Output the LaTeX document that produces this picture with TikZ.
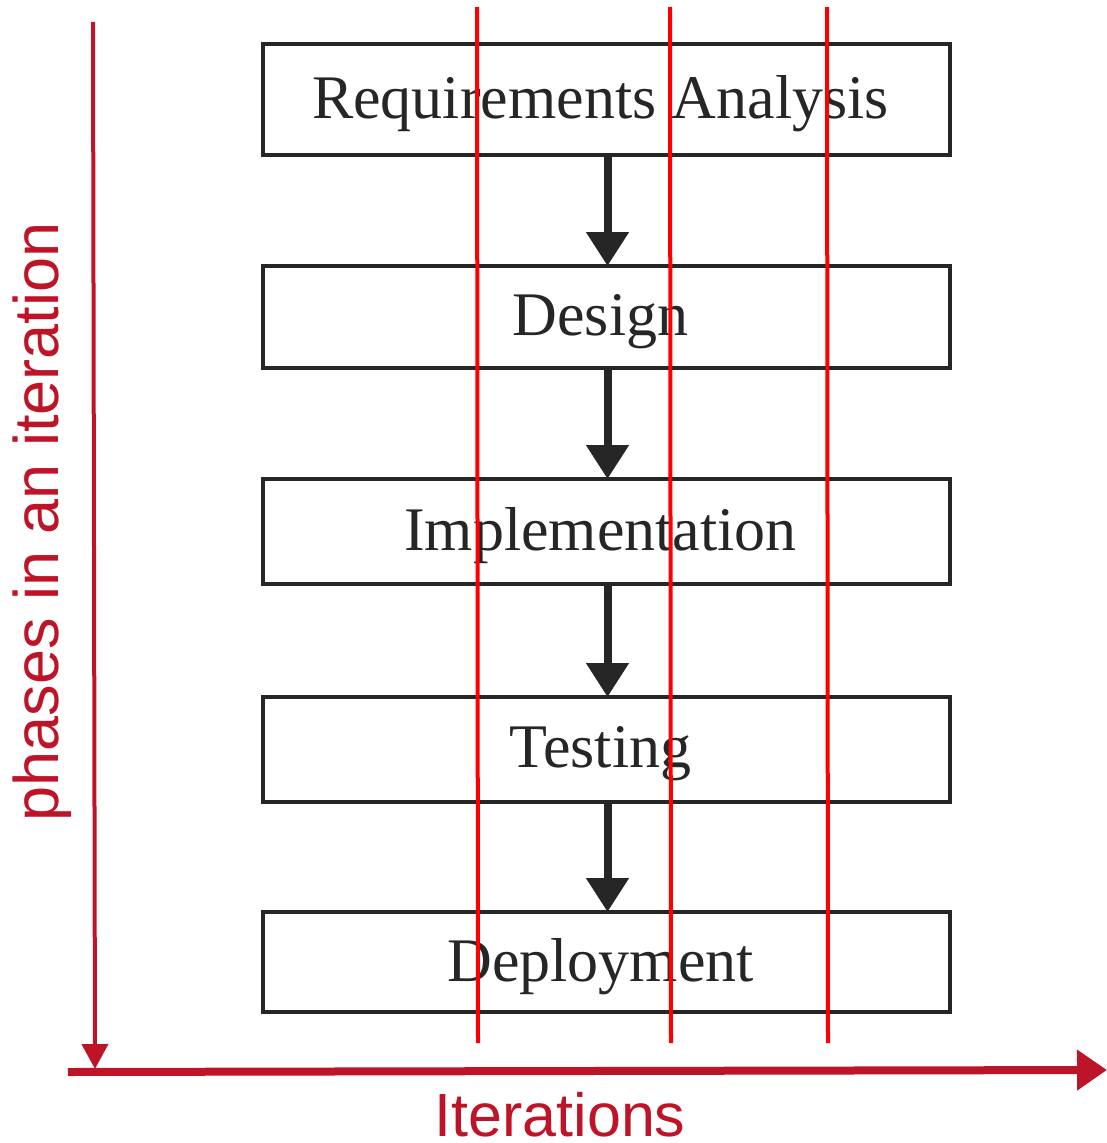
\documentclass[tikz,border=0pt]{standalone}
\usepackage{fontspec}
\setmainfont{Liberation Serif}
\newfontfamily\axisfont{Liberation Sans}
\usetikzlibrary{arrows.meta}
\definecolor{boxline}{HTML}{262626}
\definecolor{axisred}{HTML}{BE1428}
\definecolor{iterred}{HTML}{FF0000}
\newcommand{\boxtext}[1]{\kern-12pt\raisebox{-4.5pt}[\height][\depth]{#1}}
\tikzset{
  phasebox/.style={draw=boxline, line width=4.5pt, minimum width=687pt, inner sep=0pt, outer sep=0pt,
    font=\fontsize{62}{70}\selectfont, text=boxline},
  flowarrow/.style={draw=boxline, line width=8pt, -{Triangle[width=41pt,length=34pt]}},
  iterline/.style={draw=iterred, line width=4pt},
  axisline/.style={draw=axisred, fill=axisred},
  axislabel/.style={font=\axisfont\fontsize{63}{70}\selectfont, text=axisred, inner sep=0pt}
}
\begin{document}
\begin{tikzpicture}[x=1pt,y=-1pt]
\useasboundingbox (0,0) rectangle (1107,1143);
\node[phasebox, minimum height=111pt] (b1) at (606.5,99.5) {\boxtext{Requirements Analysis}};
\node[phasebox, minimum height=102pt] (b2) at (606.5,317) {\boxtext{Design}};
\node[phasebox, minimum height=105pt] (b3) at (606.5,531.5) {\boxtext{Implementation}};
\node[phasebox, minimum height=105pt] (b4) at (606.5,749.5) {\boxtext{Testing}};
\node[phasebox, minimum height=100pt] (b5) at (606.5,962) {\boxtext{Deployment}};
\draw[flowarrow] ([xshift=1pt]b1.south) -- ([xshift=1pt]b2.north);
\draw[flowarrow] ([xshift=1pt]b2.south) -- ([xshift=1pt]b3.north);
\draw[flowarrow] ([xshift=1pt]b3.south) -- ([xshift=1pt]b4.north);
\draw[flowarrow] ([xshift=1pt]b4.south) -- ([xshift=1pt]b5.north);
% iteration lines
\coordinate (i1t) at (477,7); \coordinate (i1b) at (478,1043);
\coordinate (i2t) at (670,7); \coordinate (i2b) at (671,1043);
\coordinate (i3t) at (827,7); \coordinate (i3b) at (828,1043);
\draw[iterline] (i1t) -- (i1b);
\draw[iterline] (i2t) -- (i2b);
\draw[iterline] (i3t) -- (i3b);
% axes
\coordinate (vtop) at (93,22); \coordinate (vbot) at (95,1069);
\coordinate (hleft) at (68,1072); \coordinate (hright) at (1107,1070);
\draw[axisline, line width=4pt, -{Triangle[width=26pt,length=25pt]}] (vtop) -- (vbot);
\draw[axisline, line width=8pt, -{Triangle[width=39pt,length=30pt]}] (hleft) -- (hright);
\node[axislabel, rotate=90] (phl) at (42,522) {phases in an iteration};
\node[axislabel, font=\axisfont\fontsize{61}{70}\selectfont] (itl) at (560,1115) {Iterations};
\end{tikzpicture}
\end{document}
